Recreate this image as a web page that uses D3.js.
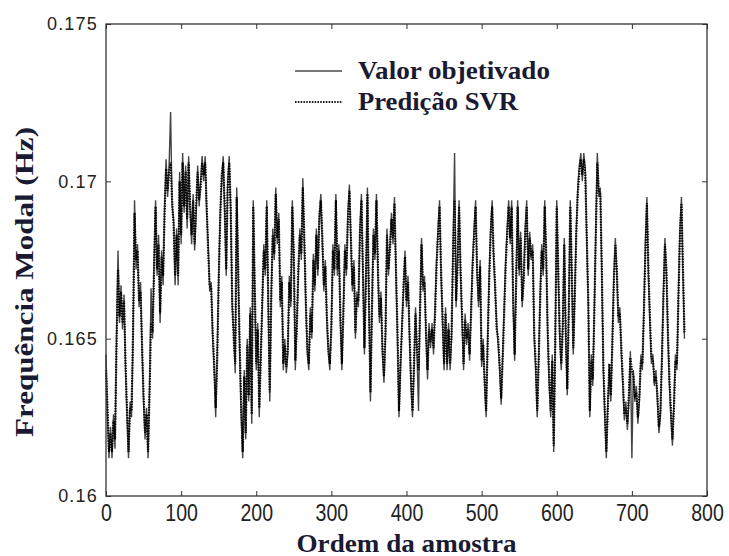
<!DOCTYPE html>
<html><head><meta charset="utf-8">
<script src="https://cdn.jsdelivr.net/npm/d3@7/dist/d3.min.js"></script>
<style>body{margin:0;background:#fff}</style></head>
<body><svg id="c" width="729" height="556"></svg>
<script>
// sample order: index i -> sample i*sampleStep
const sampleStep = 2;
const valorObjetivado = [
0.1645,0.1625,0.1612,0.1622,0.1612,0.1626,0.1615,0.1650,0.1678,0.1655,
0.1667,0.1653,0.1664,0.1640,0.1625,0.1612,0.1630,0.1625,0.1650,0.1694,
0.1672,0.1680,0.1660,0.1668,0.1646,0.1630,0.1618,0.1628,0.1612,0.1635,
0.1666,0.1650,0.1675,0.1694,0.1670,0.1683,0.1655,0.1678,0.1667,0.1692,
0.1707,0.1695,0.1705,0.1722,0.1692,0.1688,0.1667,0.1685,0.1667,0.1703,
0.1680,0.1709,0.1690,0.1705,0.1685,0.1708,0.1690,0.1680,0.1696,0.1678,
0.1690,0.1705,0.1692,0.1700,0.1708,0.1700,0.1708,0.1690,0.1680,0.1665,
0.1668,0.1650,0.1640,0.1625,0.1645,0.1670,0.1690,0.1700,0.1708,0.1690,
0.1670,0.1700,0.1708,0.1690,0.1660,0.1652,0.1639,0.1698,0.1670,0.1645,
0.1625,0.1612,0.1640,0.1618,0.1650,0.1630,0.1660,0.1623,0.1694,0.1665,
0.1640,0.1655,0.1625,0.1645,0.1660,0.1680,0.1670,0.1694,0.1660,0.1630,
0.1665,0.1685,0.1675,0.1698,0.1680,0.1690,0.1660,0.1670,0.1640,0.1650,
0.1639,0.1645,0.1670,0.1660,0.1694,0.1675,0.1640,0.1655,0.1670,0.1685,
0.1675,0.1701,0.1680,0.1660,0.1645,0.1640,0.1660,0.1650,0.1677,0.1665,
0.1685,0.1670,0.1690,0.1696,0.1680,0.1665,0.1675,0.1655,0.1645,0.1640,
0.1655,0.1680,0.1670,0.1696,0.1670,0.1680,0.1655,0.1640,0.1660,0.1680,
0.1670,0.1690,0.1699,0.1680,0.1665,0.1675,0.1650,0.1665,0.1660,0.1685,
0.1696,0.1670,0.1645,0.1670,0.1698,0.1660,0.1630,0.1660,0.1685,0.1675,
0.1696,0.1670,0.1655,0.1665,0.1645,0.1636,0.1650,0.1685,0.1670,0.1680,
0.1690,0.1680,0.1695,0.1670,0.1650,0.1625,0.1640,0.1655,0.1665,0.1678,
0.1660,0.1670,0.1650,0.1635,0.1625,0.1640,0.1660,0.1645,0.1627,0.1660,
0.1682,0.1665,0.1670,0.1650,0.1637,0.1655,0.1647,0.1655,0.1645,0.1660,
0.1675,0.1685,0.1694,0.1670,0.1655,0.1640,0.1660,0.1640,0.1655,0.1640,
0.1650,0.1680,0.1709,0.1660,0.1675,0.1694,0.1670,0.1655,0.1640,0.1658,
0.1648,0.1655,0.1643,0.1660,0.1675,0.1685,0.1694,0.1670,0.1660,0.1675,
0.1641,0.1650,0.1635,0.1625,0.1650,0.1670,0.1685,0.1694,0.1675,0.1665,
0.1655,0.1648,0.1640,0.1629,0.1645,0.1660,0.1675,0.1685,0.1694,0.1680,
0.1694,0.1660,0.1643,0.1670,0.1694,0.1670,0.1684,0.1660,0.1670,0.1685,
0.1694,0.1670,0.1684,0.1675,0.1680,0.1650,0.1640,0.1625,0.1645,0.1665,
0.1680,0.1670,0.1694,0.1675,0.1650,0.1635,0.1625,0.1645,0.1614,0.1650,
0.1694,0.1670,0.1650,0.1640,0.1655,0.1682,0.1650,0.1632,0.1660,0.1694,
0.1670,0.1645,0.1665,0.1685,0.1698,0.1705,0.1709,0.1700,0.1709,0.1704,
0.1680,0.1660,0.1625,0.1645,0.1635,0.1660,0.1685,0.1709,0.1695,0.1698,
0.1670,0.1640,0.1625,0.1612,0.1630,0.1640,0.1630,0.1650,0.1670,0.1682,
0.1670,0.1655,0.1660,0.1645,0.1635,0.1624,0.1630,0.1621,0.1630,0.1646,
0.1612,0.1640,0.1630,0.1635,0.1623,0.1630,0.1645,0.1640,0.1660,0.1680,
0.1695,0.1670,0.1655,0.1642,0.1645,0.1635,0.1640,0.1630,0.1620,0.1625,
0.1645,0.1665,0.1682,0.1670,0.1650,0.1635,0.1625,0.1616,0.1630,0.1645,
0.1640,0.1665,0.1685,0.1695,0.1670,0.1650
];
const predicaoSVR = [
0.1640,0.1628,0.1614,0.1620,0.1614,0.1624,0.1618,0.1648,0.1672,0.1657,
0.1665,0.1655,0.1662,0.1642,0.1627,0.1614,0.1628,0.1627,0.1652,0.1690,
0.1675,0.1678,0.1662,0.1665,0.1648,0.1632,0.1620,0.1626,0.1614,0.1633,
0.1655,0.1652,0.1672,0.1692,0.1672,0.1680,0.1658,0.1676,0.1670,0.1690,
0.1704,0.1697,0.1703,0.1706,0.1694,0.1686,0.1670,0.1683,0.1670,0.1700,
0.1683,0.1706,0.1692,0.1703,0.1688,0.1706,0.1692,0.1683,0.1694,0.1680,
0.1692,0.1703,0.1694,0.1698,0.1706,0.1702,0.1706,0.1692,0.1678,0.1667,
0.1666,0.1652,0.1642,0.1628,0.1643,0.1668,0.1688,0.1702,0.1706,0.1692,
0.1672,0.1698,0.1706,0.1692,0.1662,0.1650,0.1642,0.1695,0.1672,0.1647,
0.1628,0.1614,0.1638,0.1620,0.1648,0.1632,0.1658,0.1626,0.1692,0.1667,
0.1642,0.1653,0.1628,0.1643,0.1662,0.1678,0.1672,0.1692,0.1662,0.1633,
0.1663,0.1683,0.1677,0.1696,0.1682,0.1688,0.1662,0.1668,0.1642,0.1648,
0.1641,0.1647,0.1668,0.1662,0.1692,0.1677,0.1643,0.1653,0.1672,0.1683,
0.1677,0.1698,0.1682,0.1662,0.1647,0.1642,0.1658,0.1652,0.1675,0.1667,
0.1683,0.1672,0.1688,0.1694,0.1682,0.1667,0.1673,0.1657,0.1647,0.1642,
0.1653,0.1678,0.1672,0.1694,0.1672,0.1678,0.1657,0.1642,0.1658,0.1678,
0.1672,0.1688,0.1697,0.1682,0.1667,0.1673,0.1652,0.1663,0.1662,0.1683,
0.1694,0.1672,0.1647,0.1668,0.1696,0.1662,0.1633,0.1658,0.1683,0.1677,
0.1694,0.1672,0.1657,0.1663,0.1647,0.1638,0.1652,0.1683,0.1672,0.1678,
0.1688,0.1682,0.1693,0.1672,0.1652,0.1627,0.1642,0.1653,0.1667,0.1676,
0.1662,0.1668,0.1652,0.1637,0.1627,0.1642,0.1658,0.1647,0.1640,0.1658,
0.1680,0.1667,0.1668,0.1652,0.1640,0.1653,0.1649,0.1653,0.1647,0.1658,
0.1673,0.1683,0.1692,0.1672,0.1657,0.1642,0.1658,0.1642,0.1653,0.1642,
0.1652,0.1678,0.1694,0.1662,0.1673,0.1692,0.1672,0.1657,0.1642,0.1656,
0.1650,0.1653,0.1645,0.1658,0.1673,0.1683,0.1692,0.1672,0.1662,0.1673,
0.1643,0.1648,0.1637,0.1627,0.1648,0.1668,0.1683,0.1692,0.1677,0.1667,
0.1653,0.1650,0.1642,0.1631,0.1643,0.1658,0.1673,0.1683,0.1692,0.1682,
0.1692,0.1662,0.1645,0.1668,0.1692,0.1672,0.1682,0.1662,0.1668,0.1683,
0.1692,0.1672,0.1682,0.1677,0.1678,0.1652,0.1642,0.1627,0.1643,0.1663,
0.1678,0.1672,0.1692,0.1677,0.1652,0.1637,0.1627,0.1643,0.1616,0.1648,
0.1692,0.1672,0.1652,0.1642,0.1653,0.1680,0.1652,0.1634,0.1658,0.1692,
0.1672,0.1647,0.1663,0.1683,0.1696,0.1703,0.1707,0.1702,0.1707,0.1702,
0.1682,0.1662,0.1627,0.1643,0.1637,0.1658,0.1683,0.1706,0.1697,0.1696,
0.1672,0.1642,0.1627,0.1614,0.1628,0.1642,0.1632,0.1648,0.1668,0.1680,
0.1672,0.1657,0.1658,0.1647,0.1637,0.1626,0.1628,0.1623,0.1632,0.1644,
0.1640,0.1638,0.1632,0.1633,0.1625,0.1632,0.1643,0.1642,0.1658,0.1678,
0.1693,0.1672,0.1657,0.1644,0.1643,0.1637,0.1638,0.1632,0.1622,0.1627,
0.1643,0.1663,0.1680,0.1672,0.1652,0.1637,0.1627,0.1618,0.1628,0.1643,
0.1642,0.1663,0.1683,0.1693,0.1672,0.1652
];
const xTicks = [0,100,200,300,400,500,600,700,800];
const yTicks = [0.16,0.165,0.17,0.175];
const yTickLabels = ["0.16","0.165","0.17","0.175"];
const seriesNames = ["Valor objetivado","Predição SVR"];
const xTitle = "Ordem da amostra";
const yTitle = "Frequência Modal (Hz)";

const svg = d3.select("#c");
const x = d3.scaleLinear().domain([0,800]).range([106,707]);
const y = d3.scaleLinear().domain([0.16,0.175]).range([496,24]);
const titleFont = "'Liberation Serif','Times New Roman',serif";
const tickFont = "'Liberation Sans',Arial,sans-serif";
const titleColor = "#1a1a33";

// data lines
const line = d3.line().x((d,i)=>x(i*sampleStep)).y(d=>y(d));
svg.append("path").datum(valorObjetivado).attr("d", line)
  .attr("fill","none").attr("stroke","#444").attr("stroke-width",1.4);
svg.append("path").datum(predicaoSVR).attr("d", line)
  .attr("fill","none").attr("stroke","#000").attr("stroke-width",2.2)
  .attr("stroke-dasharray","1.4,1.2");

// axes (inward ticks)
const gB = svg.append("g").attr("transform","translate(0,496)")
  .call(d3.axisBottom(x).tickValues(xTicks).tickSizeInner(-5).tickSizeOuter(0).tickFormat(d3.format("d")));
const gT = svg.append("g").attr("transform","translate(0,24)")
  .call(d3.axisTop(x).tickValues(xTicks).tickSizeInner(-5).tickSizeOuter(0).tickFormat(""));
const gL = svg.append("g").attr("transform","translate(106,0)")
  .call(d3.axisLeft(y).tickValues(yTicks).tickSizeInner(-5).tickSizeOuter(0).tickFormat((d,i)=>yTickLabels[i]));
const gR = svg.append("g").attr("transform","translate(707,0)")
  .call(d3.axisRight(y).tickValues(yTicks).tickSizeInner(-5).tickSizeOuter(0).tickFormat(""));
[gB,gT,gL,gR].forEach(g=>{ g.select(".domain").remove(); g.selectAll(".tick line").attr("stroke","#333"); });

gB.selectAll(".tick text")
  .attr("y",0).attr("dy",0)
  .attr("font-family",tickFont).attr("font-size",19).attr("fill","#222")
  .attr("transform","translate(0,25) scale(1.03,1.25)");
gL.selectAll(".tick text")
  .attr("x",-8)
  .attr("font-family",tickFont).attr("font-size",18).attr("fill","#222")
  .attr("letter-spacing","1.2px");

// frame
svg.append("rect").attr("x",x(0)).attr("y",y(0.175))
  .attr("width",x(800)-x(0)).attr("height",y(0.16)-y(0.175))
  .attr("fill","none").attr("stroke","#333").attr("stroke-width",1.3);

// axis titles
svg.append("text").text(xTitle)
  .attr("x",(x(0)+x(800))/2).attr("y",552).attr("text-anchor","middle")
  .attr("font-family",titleFont).attr("font-weight","bold").attr("font-size",25)
  .attr("fill",titleColor).attr("textLength",220).attr("lengthAdjust","spacingAndGlyphs");
svg.append("text").text(yTitle)
  .attr("transform","translate(33,282) rotate(-90)").attr("text-anchor","middle")
  .attr("font-family",titleFont).attr("font-weight","bold").attr("font-size",25)
  .attr("fill",titleColor).attr("textLength",310).attr("lengthAdjust","spacingAndGlyphs");

// legend
const legendY = [71, 102];
const legendLen = [192, 160];
const lg = svg.append("g");
seriesNames.forEach((name,i)=>{
  lg.append("line").attr("x1",295).attr("x2",342).attr("y1",legendY[i]).attr("y2",legendY[i])
    .attr("stroke", i===0 ? "#777" : "#222").attr("stroke-width", 2)
    .attr("stroke-dasharray", i===0 ? null : "1.6,1.2");
  lg.append("text").text(name).attr("x",358).attr("y",legendY[i]+8)
    .attr("font-family",titleFont).attr("font-weight","bold").attr("font-size",25)
    .attr("fill",titleColor).attr("textLength",legendLen[i]).attr("lengthAdjust","spacingAndGlyphs");
});
</script></body></html>
